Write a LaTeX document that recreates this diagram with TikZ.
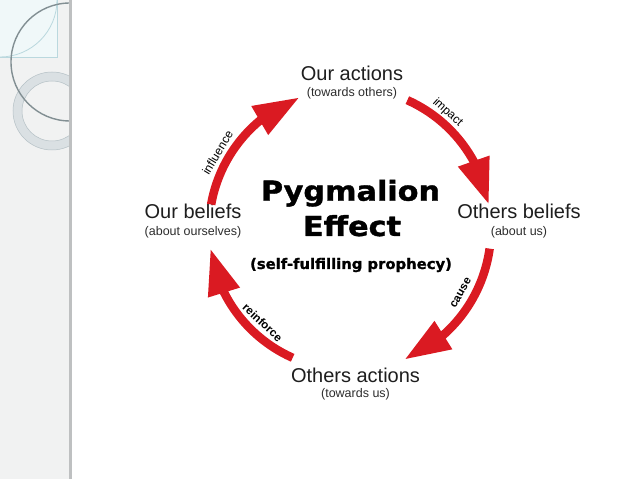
\documentclass[tikz,border=0pt]{standalone}
\usepackage{fontspec}
\setmainfont{Liberation Sans}
\newfontfamily\titlefont{DejaVu Sans}[BoldFeatures={FakeBold=1.2}]
\usetikzlibrary{arrows.meta,bending}
\definecolor{arrred}{RGB}{218,26,34}
\definecolor{txt}{RGB}{30,30,30}
\definecolor{subtxt}{RGB}{45,45,45}
\definecolor{sidebg}{RGB}{241,242,242}
\definecolor{sideline}{RGB}{190,192,193}
\definecolor{boxfill}{RGB}{240,248,249}
\definecolor{boxline}{RGB}{186,216,222}
\definecolor{darkarc}{RGB}{130,143,147}
\definecolor{ringgray}{RGB}{218,224,227}
\definecolor{ringedge}{RGB}{180,192,197}
\tikzset{
  mainlbl/.style={anchor=base, inner sep=0pt, text=txt, font=\fontsize{20}{22}\selectfont},
  sublbl/.style={anchor=base, inner sep=0pt, text=subtxt, font=\fontsize{12.5}{14}\selectfont},
  titlelbl/.style={anchor=base, inner sep=0pt, text=black, font=\titlefont\bfseries\fontsize{27.5}{30}\selectfont},
  subtitlelbl/.style={anchor=base, inner sep=0pt, text=black, font=\titlefont\bfseries\fontsize{14.5}{16}\selectfont},
  arrlbl/.style={inner sep=0pt, text=black, font=\fontsize{12}{13}\selectfont},
  arrlblb/.style={inner sep=0pt, text=black, font=\bfseries\fontsize{11.5}{13}\selectfont},
  cyc/.style={draw=arrred, line width=8.5pt, -{Triangle[length=46pt,width=31pt,flex]}}
}
\begin{document}
\begin{tikzpicture}[x=1pt,y=1pt]
\useasboundingbox (0,0) rectangle (638,479);
\fill[white] (0,0) rectangle (638,479);
% side bar
\fill[sidebg] (0,0) rectangle (69,479);
\fill[boxfill] (0,422) rectangle (57,479);
\draw[boxline, line width=0.8pt] (0,422) -- (57,422) -- (57,479);
\draw[boxline, line width=0.8pt] (57,479) arc[start angle=0, end angle=-90, radius=57pt];
\begin{scope}
  \clip (0,0) rectangle (69,479);
  \draw[ringgray, line width=9pt] (52,368) circle[radius=34.5pt];
  \draw[ringedge, line width=0.5pt] (52,368) circle[radius=39pt];
  \draw[ringedge, line width=0.5pt] (52,368) circle[radius=30pt];
  \draw[darkarc, line width=1.4pt] (70,417) circle[radius=59pt];
\end{scope}
\fill[sideline] (68.5,0) rectangle (71.5,479);

% centre of the cycle
\coordinate (c) at (350,250);

% nodes
\node[mainlbl] (oa) at (352,398) {Our actions};
\node[sublbl] (oas) at (352,382) {(towards others)};
\node[mainlbl] (ob) at (519,260) {Others beliefs};
\node[sublbl] (obs) at (519,243) {(about us)};
\node[mainlbl] (ub) at (193,260) {Our beliefs};
\node[sublbl] (ubs) at (193,243) {(about ourselves)};
\node[mainlbl] (xa) at (355.5,96) {Others actions};
\node[sublbl] (xas) at (355.5,81) {(towards us)};

\node[titlelbl] (t1) at (350.5,278.3) {\scalebox{1.1}[1]{Pygmalion}};
\node[titlelbl] (t2) at (352,243) {\scalebox{1.1}[1]{Effect}};
\node[subtitlelbl] (t3) at (351,210) {\scalebox{1.02}[1]{(self-fulfilling prophecy)}};

% arrows
\draw[cyc] ([shift={(170:141pt)}]c) arc[start angle=170, end angle=111, radius=141pt];
\draw[cyc] ([shift={(66:141pt)}]c) arc[start angle=66, end angle=10, radius=141pt];
\draw[cyc] ([shift={(-8:141pt)}]c) arc[start angle=-8, end angle=-67, radius=142pt];
\draw[cyc] ([shift={(-114:141pt)}]c) arc[start angle=-114, end angle=-172, radius=141pt];

% arrow labels
\node[arrlbl, rotate=59] (l1) at ([shift={(150:153pt)}]c) {influence};
\node[arrlbl, rotate=-42] (l2) at ([shift={(50:152pt)}]c) {impact};
\node[arrlblb, rotate=60] (l3) at ([shift={(-30:128pt)}]c) {cause};
\node[arrlblb, rotate=-43] (l4) at ([shift={(-133:128pt)}]c) {reinforce};
\end{tikzpicture}
\end{document}
